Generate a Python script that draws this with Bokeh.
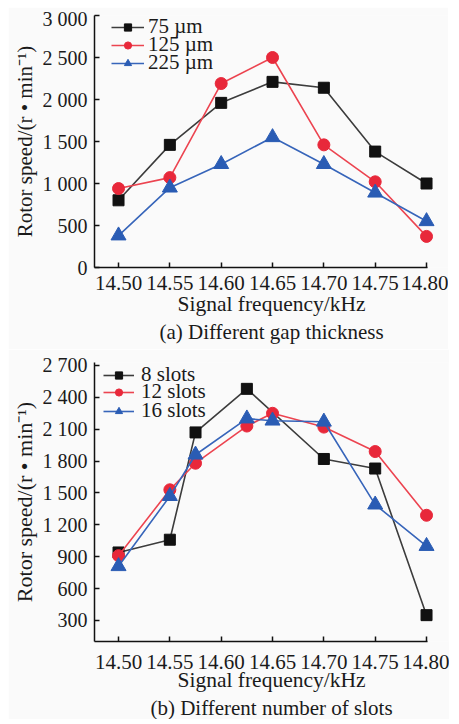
from bokeh.plotting import figure
from bokeh.layouts import column
from bokeh.models import FixedTicker, Legend, LegendItem, Title, Range1d
from bokeh.embed import file_html
from bokeh.resources import INLINE

FONT = "Liberation Serif"
BG = "#fafafa"

# ---- panel (a): different gap thickness ----
freq_a = [14.50, 14.55, 14.60, 14.65, 14.70, 14.75, 14.80]
speed_75 = [800, 1460, 1960, 2210, 2140, 1380, 1000]
speed_125 = [940, 1070, 2190, 2500, 1460, 1020, 370]
speed_225 = [380, 950, 1230, 1550, 1230, 890, 550]
labels_a = ["75 µm", "125 µm", "225 µm"]

# ---- panel (b): different number of slots ----
freq_8 = [14.50, 14.55, 14.575, 14.625, 14.70, 14.75, 14.80]
speed_8 = [940, 1060, 2070, 2480, 1820, 1730, 350]
freq_12 = [14.50, 14.55, 14.575, 14.625, 14.65, 14.70, 14.75, 14.80]
speed_12 = [910, 1530, 1780, 2130, 2250, 2120, 1890, 1290]
freq_16 = [14.50, 14.55, 14.575, 14.625, 14.65, 14.70, 14.75, 14.80]
speed_16 = [810, 1470, 1860, 2200, 2180, 2170, 1390, 1000]
labels_b = ["8 slots", "12 slots", "16 slots"]

x_ticks = [14.50, 14.55, 14.60, 14.65, 14.70, 14.75, 14.80]
x_tick_labels = ["14.50", "14.55", "14.60", "14.65", "14.70", "14.75", "14.80"]
y_ticks_a = [0, 500, 1000, 1500, 2000, 2500, 3000]
y_tick_labels_a = ["0", "500", "1 000", "1 500", "2 000", "2 500", "3 000"]
y_ticks_b = [300, 600, 900, 1200, 1500, 1800, 2100, 2400, 2700]
y_tick_labels_b = ["300", "600", "900", "1 200", "1 500", "1 800", "2 100", "2 400", "2 700"]

x_label = "Signal frequency/kHz"
y_label = "Rotor speed/(r \u2022 min\u207b\u00b9)"
caption_a = "(a) Different gap thickness"
caption_b = "(b) Different number of slots"

BLACK_M, BLACK_L = "#111111", "#3c3c3c"
RED_M, RED_L = "#e8283a", "#ec4450"
BLUE_M, BLUE_L = "#2a5cb4", "#3765ba"


def style(p, yt, ytl, label_standoff, xlabel_standoff, ylabel_size):
    p.grid.visible = False
    p.outline_line_color = None
    for ax in (p.xaxis[0], p.yaxis[0]):
        ax.major_tick_in = 5
        ax.major_tick_out = 0
        ax.minor_tick_line_color = None
        ax.axis_line_width = 1.5
        ax.axis_line_color = "#111111"
        ax.major_tick_line_width = 1.5
        ax.major_tick_line_color = "#111111"
        ax.major_label_text_font = FONT
        ax.major_label_text_font_size = "20px"
        ax.major_label_text_color = "#1a1a1a"
        ax.axis_label_text_font = FONT
        ax.axis_label_text_font_style = "normal"
        ax.axis_label_text_color = "#1a1a1a"
    p.xaxis[0].major_label_text_font_size = "21px"
    p.xaxis[0].ticker = FixedTicker(ticks=x_ticks)
    p.xaxis[0].major_label_overrides = dict(zip(x_ticks, x_tick_labels))
    p.yaxis[0].ticker = FixedTicker(ticks=yt)
    p.yaxis[0].major_label_overrides = dict(zip(yt, ytl))
    p.xaxis[0].axis_label = x_label
    p.yaxis[0].axis_label = y_label
    p.xaxis[0].axis_label_text_font_size = "21.5px"
    p.yaxis[0].axis_label_text_font_size = ylabel_size
    p.xaxis[0].major_label_standoff = label_standoff
    p.xaxis[0].axis_label_standoff = xlabel_standoff
    p.yaxis[0].major_label_standoff = 7
    p.yaxis[0].axis_label_standoff = 3
    p.xaxis[0].bounds = (p.x_range.start, 14.801)


def series(p, x, y, lc, mc, marker, size):
    l = p.line(x, y, line_color=lc, line_width=1.6)
    s = p.scatter(x, y, marker=marker, size=size, fill_color=mc, line_color=mc)
    return [l, s]


def add_legends(p, items, labels, x0, bottoms, standoff, gw):
    # one single-item legend per series so that the row pitch matches the reference
    for lab, r, vy in zip(labels, items, bottoms):
        p.add_layout(Legend(
            items=[LegendItem(label=lab, renderers=r)],
            location=(x0, vy), padding=0, margin=0, spacing=0,
            glyph_width=gw, glyph_height=18, label_height=18, label_standoff=standoff,
            label_text_font=FONT, label_text_font_size="21px", label_text_color="#1a1a1a",
            border_line_color=None, background_fill_alpha=0,
        ))


common = dict(output_backend="svg", toolbar_location=None,
              background_fill_color=BG, border_fill_color=BG,
              frame_width=354, min_border_left=85, min_border_right=1)

# panel a
p1 = figure(frame_height=252, min_border_top=8, min_border_bottom=82,
            x_range=Range1d(14.4766, 14.8214), y_range=Range1d(0, 3000), **common)
style(p1, y_ticks_a, y_tick_labels_a, 8, -1, "21px")
r75 = series(p1, freq_a, speed_75, BLACK_L, BLACK_M, "square", 11)
r125 = series(p1, freq_a, speed_125, RED_L, RED_M, "circle", 12)
r225 = series(p1, freq_a, speed_225, BLUE_L, BLUE_M, "triangle", 15)
add_legends(p1, [r75, r125, r225], labels_a, 17, [228, 210, 192], 4, 33)
p1.add_layout(Title(text=caption_a, align="center", text_font=FONT,
                    text_font_size="21px", text_font_style="normal",
                    text_color="#1a1a1a", standoff=-1), "below")
p1.margin = (7, 0, 0, 8)

# panel b
p2 = figure(frame_height=279, min_border_top=13, min_border_bottom=0,
            x_range=Range1d(14.4766, 14.8214), y_range=Range1d(102, 2728), **common)
style(p2, y_ticks_b, y_tick_labels_b, 13, -4, "22px")
r8 = series(p2, freq_8, speed_8, BLACK_L, BLACK_M, "square", 11)
r12 = series(p2, freq_12, speed_12, RED_L, RED_M, "circle", 12)
r16 = series(p2, freq_16, speed_16, BLUE_L, BLUE_M, "triangle", 15)
add_legends(p2, [r8, r12, r16], labels_b, 9, [254, 237, 218], 7, 31)
p2.add_layout(Title(text=caption_b, align="center", text_font=FONT,
                    text_font_size="21px", text_font_style="normal",
                    text_color="#1a1a1a", standoff=-1), "below")
p2.margin = (0, 0, 0, 8)

layout = column(p1, p2, spacing=0)
open("out.html", "w").write(file_html(layout, INLINE))
